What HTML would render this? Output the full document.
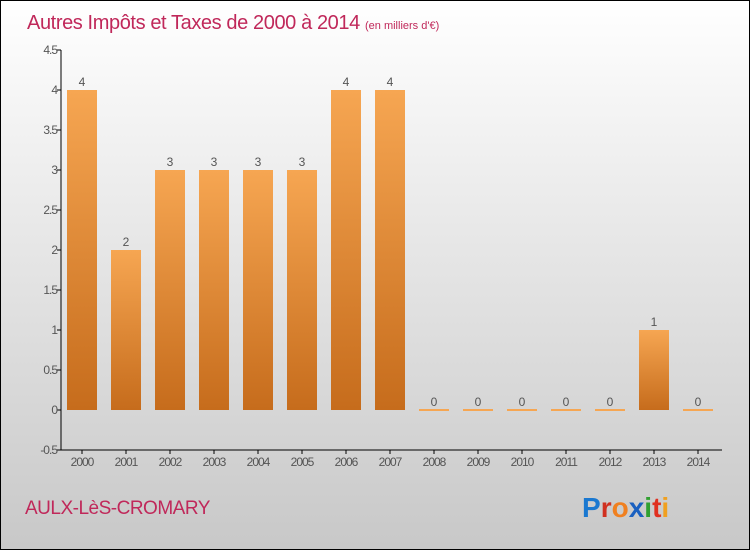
<!DOCTYPE html>
<html><head><meta charset="utf-8"><style>
body{margin:0;width:750px;height:550px;overflow:hidden;font-family:"Liberation Sans",sans-serif}
</style></head><body>
<svg width="750" height="550" xmlns="http://www.w3.org/2000/svg">
<defs>
<linearGradient id="bg" x1="0" y1="0" x2="0" y2="1"><stop offset="0" stop-color="#ffffff"/><stop offset="1" stop-color="#c8c8c8"/></linearGradient>
<linearGradient id="bar" x1="0" y1="0" x2="0" y2="1"><stop offset="0" stop-color="#f6a652"/><stop offset="1" stop-color="#c66c1c"/></linearGradient>
</defs>
<rect x="0.5" y="0.5" width="749" height="549" fill="url(#bg)" stroke="#000"/>
<text x="27" y="29" font-size="20" fill="#c0285a" letter-spacing="-0.4">Autres Impôts et Taxes de 2000 à 2014 <tspan font-size="11" letter-spacing="0">(en milliers d'€)</tspan></text>
<g id="plot"></g>
<text x="25" y="514" font-size="19" fill="#c0285a" letter-spacing="-0.5">AULX-LèS-CROMARY</text>
<text x="582" y="517" font-size="28" font-weight="bold"><tspan fill="#1a78d0">P</tspan><tspan fill="#d03020">r</tspan><tspan fill="#f08020">o</tspan><tspan fill="#1a60c0">x</tspan><tspan fill="#30a030">i</tspan><tspan fill="#e03020">t</tspan><tspan fill="#f0a020">i</tspan></text>
</svg>
<script>
const years=["2000","2001","2002","2003","2004","2005","2006","2007","2008","2009","2010","2011","2012","2013","2014"];
const values=[4,2,3,3,3,3,4,4,0,0,0,0,0,1,0];
const yTicks=[-0.5,0,0.5,1,1.5,2,2.5,3,3.5,4,4.5];
const yTickLabels=["-0.5","0","0.5","1","1.5","2","2.5","3","3.5","4","4.5"];
const NS="http://www.w3.org/2000/svg";
const g=document.getElementById('plot');
const y=v=>410-v*80;
const x=i=>82+i*44;
function mk(t,a){const e=document.createElementNS(NS,t);for(const k in a)e.setAttribute(k,a[k]);g.appendChild(e);return e;}
const ya=mk('line',{x1:61,y1:50,x2:61,y2:450,stroke:'#000'});


const xa=mk('line',{x1:61,y1:450,x2:722,y2:450,stroke:'#000'});


yTicks.forEach((t,i)=>{
  mk('line',{x1:57,x2:61,y1:y(t),y2:y(t),stroke:'#000'});
  const tx=mk('text',{x:57,y:y(t)+4,'font-size':12,fill:'#555','text-anchor':'end','letter-spacing':'-1'});
  tx.textContent=yTickLabels[i];
  
  
});
years.forEach((yr,i)=>{
  const cx=x(i),v=values[i];
  mk('line',{x1:cx,x2:cx,y1:450,y2:454,stroke:'#000'});
  const tl=mk('text',{x:cx,y:466,'font-size':12,fill:'#555','text-anchor':'middle','letter-spacing':'-1'});
  tl.textContent=yr;
  
  
  let b;
  if(v>0){b=mk('rect',{x:cx-15,y:y(v),width:30,height:y(0)-y(v),fill:'url(#bar)'});}
  else{b=mk('rect',{x:cx-15,y:y(0)-1,width:30,height:2,fill:'#f6a652'});}
  
  
  const vl=mk('text',{x:cx,y:y(v)-4,'font-size':12,fill:'#555','text-anchor':'middle'});
  vl.textContent=v;
  
  
});
</script>
</body></html>
